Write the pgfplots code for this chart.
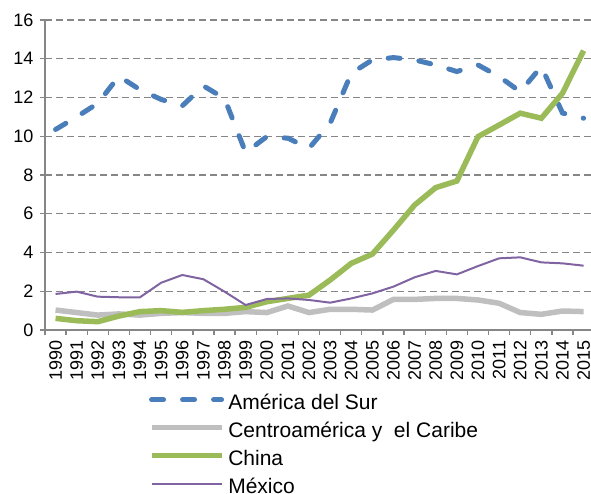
\documentclass[border=0pt]{standalone}
\usepackage{pgfplots}
\pgfplotsset{compat=1.18}
\usepackage{fontspec}
\setmainfont{Liberation Sans}
\definecolor{cSur}{HTML}{4A7EBB}
\definecolor{cCen}{HTML}{BFBFBF}
\definecolor{cChi}{HTML}{9BBB59}
\definecolor{cMex}{HTML}{8064A2}
\definecolor{cAx}{HTML}{868686}
\begin{document}
\begin{tikzpicture}[x=1pt,y=1pt]
\begin{axis}[
  at={(0,0)}, anchor=south west,
  scale only axis, width=546pt, height=310pt,
  xmin=1989.5, xmax=2015.35, ymin=0, ymax=16,
  axis lines*=left,
  axis line style={cAx, line width=1.3pt},
  every outer x axis line/.append style={-}, every outer y axis line/.append style={-},
  ytick={0,2,...,16},
  xtick={1990,...,2015},
  minor xtick={1989.5,1990.5,...,2015.5},
  tick align=outside,
  major tick length=5pt, minor tick length=5pt,
  x tick style={draw=none},
  minor x tick style={draw=cAx, line width=1.3pt},
  y tick style={cAx, line width=1.3pt},
  ymajorgrids,
  major grid style={cAx, line width=1.3pt, dash pattern=on 7pt off 4pt},
  /pgf/number format/assume math mode=true,
  /pgf/number format/1000 sep={},
  xticklabel style={rotate=90, anchor=east, font=\fontsize{18}{20}\selectfont, yshift=0pt, xshift=-2pt},
  yticklabel style={font=\fontsize{18}{20}\selectfont, xshift=-3pt},
  legend cell align=left,
  legend style={at={(axis cs:1994.5,0)}, anchor=north west, yshift=-62pt, xshift=-5pt,
    draw=none, fill=none, font=\fontsize{21}{23}\selectfont,
    row sep=9pt,
    nodes={inner sep=0pt, text height=15pt, text depth=4pt, inner xsep=4pt}},
  legend image code/.code={\draw[#1] (0pt,4pt) -- (70pt,4pt);},
  clip=false,
]
\addplot[cSur, line width=5pt, line cap=round, dash pattern=on 12pt off 19pt] coordinates {
(1990,10.35) (1991,11.0) (1992,11.7) (1993,13.1) (1994,12.4) (1995,11.9) (1996,11.57) (1997,12.6)
(1998,11.95) (1999,9.16) (2000,9.98) (2001,9.9) (2002,9.38) (2003,10.67) (2004,13.25) (2005,13.94)
(2006,14.06) (2007,13.94) (2008,13.68) (2009,13.34) (2010,13.68) (2011,13.08) (2012,12.3) (2013,13.6)
(2014,11.2) (2015,10.93)};
\addlegendentry{América del Sur}
\addplot[cCen, line width=5.5pt] coordinates {
(1990,1.03) (1991,0.9) (1992,0.77) (1993,0.83) (1994,0.77) (1995,0.86) (1996,0.9) (1997,0.86)
(1998,0.86) (1999,0.95) (2000,0.9) (2001,1.24) (2002,0.9) (2003,1.07) (2004,1.07) (2005,1.03)
(2006,1.58) (2007,1.58) (2008,1.63) (2009,1.63) (2010,1.55) (2011,1.38) (2012,0.9) (2013,0.81)
(2014,0.98) (2015,0.95)};
\addlegendentry{Centroamérica y\ \ el Caribe}
\addplot[cChi, line width=5.5pt] coordinates {
(1990,0.6) (1991,0.48) (1992,0.43) (1993,0.72) (1994,0.95) (1995,1.0) (1996,0.91) (1997,1.0)
(1998,1.07) (1999,1.17) (2000,1.46) (2001,1.63) (2002,1.8) (2003,2.58) (2004,3.44) (2005,3.92)
(2006,5.16) (2007,6.45) (2008,7.35) (2009,7.69) (2010,9.98) (2011,10.58) (2012,11.19) (2013,10.93)
(2014,12.22) (2015,14.42)};
\addlegendentry{China}
\addplot[cMex, line width=2pt] coordinates {
(1990,1.86) (1991,1.98) (1992,1.72) (1993,1.69) (1994,1.69) (1995,2.44) (1996,2.84) (1997,2.62)
(1998,1.98) (1999,1.29) (2000,1.6) (2001,1.63) (2002,1.55) (2003,1.41) (2004,1.63) (2005,1.89)
(2006,2.24) (2007,2.72) (2008,3.05) (2009,2.87) (2010,3.3) (2011,3.7) (2012,3.75) (2013,3.49)
(2014,3.44) (2015,3.32)};
\addlegendentry{México}
\end{axis}
\pgfresetboundingbox
\path (-45pt,-163pt) rectangle (546pt,330pt);
\end{tikzpicture}
\end{document}
